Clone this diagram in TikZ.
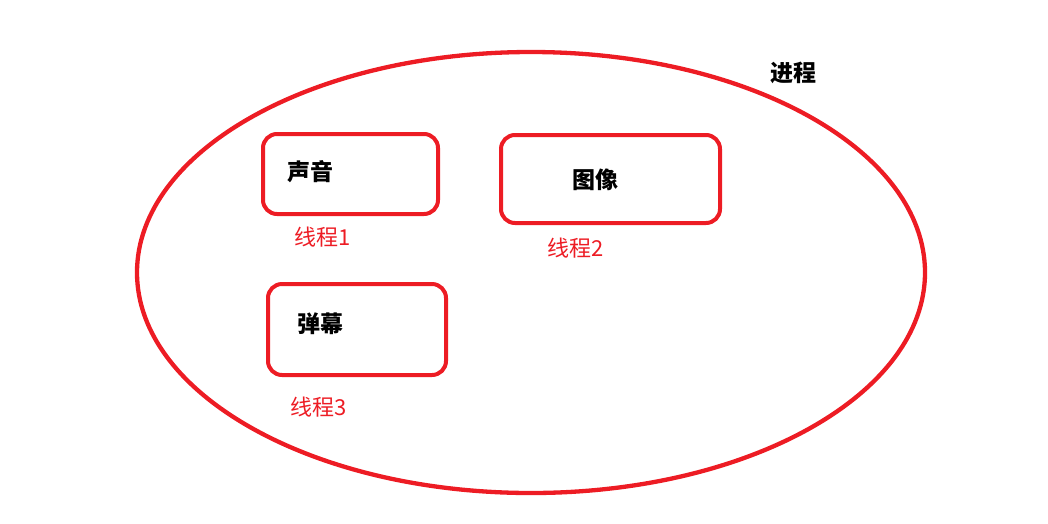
\documentclass[tikz,border=0pt]{standalone}
\usepackage{fontspec}
\setmainfont{Noto Sans CJK SC}
\definecolor{paintred}{RGB}{237,28,36}
\tikzset{
	box/.style={draw=paintred, line width=4pt, rounded corners=14pt, inner sep=0pt},
	task/.style={font=\fontsize{23}{27}\selectfont\bfseries, text=black},
	thread/.style={font=\fontsize{22}{26}\selectfont, text=paintred}
}
\begin{document}
\begin{tikzpicture}[x=1pt,y=-1pt]
	\useasboundingbox (0,0) rectangle (1048,523);
	\draw [paintred, line width=4.3pt] (531,272.5) ellipse (394 and 220.5);
	\node[task] (process) at (793,73) {进程};
	
	\node[box, minimum width=175pt, minimum height=80pt] (box1) at (350.5,174) {};
	\node[box, minimum width=219pt, minimum height=88pt] (box2) at (610.5,179) {};
	\node[box, minimum width=178pt, minimum height=91pt] (box3) at (357,329.5) {};
	
	\node[task] (sound) at (310,172) {声音};
	\node[task] (image) at (595,180) {图像};
	\node[task] (danmaku) at (320,324) {弹幕};
	
	\node[thread] (t1) at (323,237) {线程1};
	\node[thread] (t2) at (576,248) {线程2};
	\node[thread] (t3) at (319,407) {线程3};
\end{tikzpicture}
\end{document}
